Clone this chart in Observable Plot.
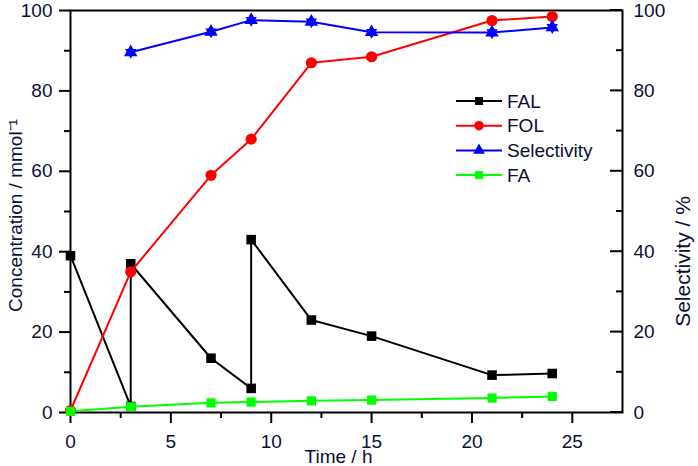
<!DOCTYPE html>
<html><head><meta charset="utf-8">
<script src="https://cdn.jsdelivr.net/npm/d3@7"></script>
<script src="https://cdn.jsdelivr.net/npm/@observablehq/plot@0.6"></script>
<style>
body{margin:0;background:#fff;}
#wrap{position:relative;width:698px;height:466px;overflow:hidden;}
#legend{position:absolute;left:0;top:0;}
</style></head><body><div id="wrap"></div>
<script>
// ---- data ----
const timeFAL = [0, 3, 3, 7, 9, 9, 12, 15, 21, 24];
const valuesFAL = [39, 1.5, 37, 13.5, 6, 43, 23, 19, 9.3, 9.7];
const timeFOL = [0, 3, 7, 9, 12, 15, 21, 24];
const valuesFOL = [0.5, 35, 59, 68, 87, 88.5, 97.5, 98.5];
const timeSel = [3, 7, 9, 12, 15, 21, 24];
const valuesSel = [89.6, 94.7, 97.6, 97.2, 94.6, 94.5, 95.8];
const timeFA = [0, 3, 7, 9, 12, 15, 21, 24];
const valuesFA = [0.3, 1.4, 2.4, 2.6, 2.9, 3.1, 3.6, 4.0];
const xTicks = [0, 5, 10, 15, 20, 25];
const xMinor = [2.5, 7.5, 12.5, 17.5, 22.5];
const yTicks = [0, 20, 40, 60, 80, 100];
const yMinor = [10, 30, 50, 70, 90];
const legendNames = ["FAL", "FOL", "Selectivity", "FA"];
const legendColors = ["#000000", "#ff0000", "#0000ff", "#00ff00"];
const legendSymbols = ["square", "circle", "triangle", "square"];

const mk = (t, v) => t.map((x, i) => ({x, y: v[i]}));
const fal = mk(timeFAL, valuesFAL);
const fol = mk(timeFOL, valuesFOL);
const sel = mk(timeSel, valuesSel);
const fa = mk(timeFA, valuesFA);
const txt = "#0a0f35";
const xDomain = [0, 27.5];

const plot = Plot.plot({
  width: 698, height: 466,
  marginLeft: 70, marginRight: 76, marginTop: 10, marginBottom: 54,
  x: {domain: xDomain},
  y: {domain: [0, 100]},
  style: {fontFamily: "'Liberation Sans', Arial, sans-serif", fontSize: "19px", color: txt, background: "white", overflow: "visible"},
  marks: [
    Plot.frame({stroke: "black", strokeWidth: 2, fill: "none"}),
    // axes
    Plot.axisX(xTicks, {tickSize: 11, tickPadding: 11, label: null, stroke: "black", strokeWidth: 2}),
    Plot.axisX(xMinor, {tickSize: 6, tickFormat: () => "", label: null, stroke: "black", strokeWidth: 2}),
    Plot.axisY(yTicks, {tickSize: 11, tickPadding: 7, label: null, stroke: "black", strokeWidth: 2}),
    Plot.axisY(yMinor, {tickSize: 6, tickFormat: () => "", label: null, stroke: "black", strokeWidth: 2}),
    Plot.axisY(yTicks, {anchor: "right", tickSize: 0, tickPadding: 11, label: null}),
    // axis titles
    Plot.text(["Concentration / mmol\u207B\u00B9"], {text: d => d, frameAnchor: "left", textAnchor: "middle", lineAnchor: "middle", dx: -55, dy: 4, rotate: -90, fill: txt}),
    Plot.text(["Selectivity / %"], {text: d => d, frameAnchor: "right", textAnchor: "middle", lineAnchor: "middle", dx: 61, dy: 50, rotate: -90, fontSize: 21, fill: txt}),
    Plot.text(["Time / h"], {text: d => d, frameAnchor: "bottom", textAnchor: "middle", lineAnchor: "middle", dx: -8, dy: 44, fill: txt}),
    // FAL
    Plot.line(fal, {x: "x", y: "y", stroke: "#000", strokeWidth: 2}),
    Plot.dot(fal, {x: "x", y: "y", symbol: "cross", r: 3.2, fill: "#000"}),
    Plot.dot(fal, {x: "x", y: "y", symbol: "square", r: 5.4, fill: "#000"}),
    // FOL
    Plot.line(fol, {x: "x", y: "y", stroke: "#ff0000", strokeWidth: 2}),
    Plot.dot(fol, {x: "x", y: "y", symbol: "circle", r: 5.6, fill: "#ff0000"}),
    // Selectivity
    Plot.line(sel, {x: "x", y: "y", stroke: "#0000ff", strokeWidth: 2}),
    Plot.dot(sel, {x: "x", y: "y", symbol: "triangle", r: 4.2, fill: "#0000ff", rotate: 180}),
    Plot.dot(sel, {x: "x", y: "y", symbol: "triangle", r: 5, fill: "#0000ff"}),
    // FA
    Plot.line(fa, {x: "x", y: "y", stroke: "#00ff00", strokeWidth: 2}),
    Plot.dot(fa, {x: "x", y: "y", symbol: "square", r: 5.2, fill: "#00ff00"})
  ]
});

const wrap = document.getElementById("wrap");
wrap.appendChild(plot);

// overlay: right-axis inward ticks (positions from Plot's own scales) and legend
const sx = plot.scale("x"), sy = plot.scale("y");
const xr = sx.apply(xDomain[1]);
const lg = d3.select(wrap).append("svg").attr("id", "legend").attr("width", 698).attr("height", 466)
  .style("font-family", "'Liberation Sans', Arial, sans-serif").style("font-size", "19px");
yTicks.forEach(v => lg.append("line").attr("x1", xr - 12).attr("x2", xr)
  .attr("y1", sy.apply(v)).attr("y2", sy.apply(v)).attr("stroke", "black").attr("stroke-width", 2));
yMinor.forEach(v => lg.append("line").attr("x1", xr - 6).attr("x2", xr)
  .attr("y1", sy.apply(v)).attr("y2", sy.apply(v)).attr("stroke", "black").attr("stroke-width", 2));

const symMap = {square: d3.symbolSquare, circle: d3.symbolCircle, triangle: d3.symbolTriangle};
legendNames.forEach((name, i) => {
  const y = 101 + i * 24.7;
  const g = lg.append("g");
  g.append("line").attr("x1", 456).attr("x2", 502).attr("y1", y).attr("y2", y)
    .attr("stroke", legendColors[i]).attr("stroke-width", 2);
  const size = legendSymbols[i] === "square" ? 64 : legendSymbols[i] === "circle" ? 72 : 60;
  g.append("path").attr("d", d3.symbol(symMap[legendSymbols[i]], size)())
    .attr("transform", `translate(479,${y})`).attr("fill", legendColors[i]);
  g.append("text").attr("x", 507).attr("y", y).attr("dy", "0.35em").attr("fill", txt).text(name);
});
</script>
</body></html>
